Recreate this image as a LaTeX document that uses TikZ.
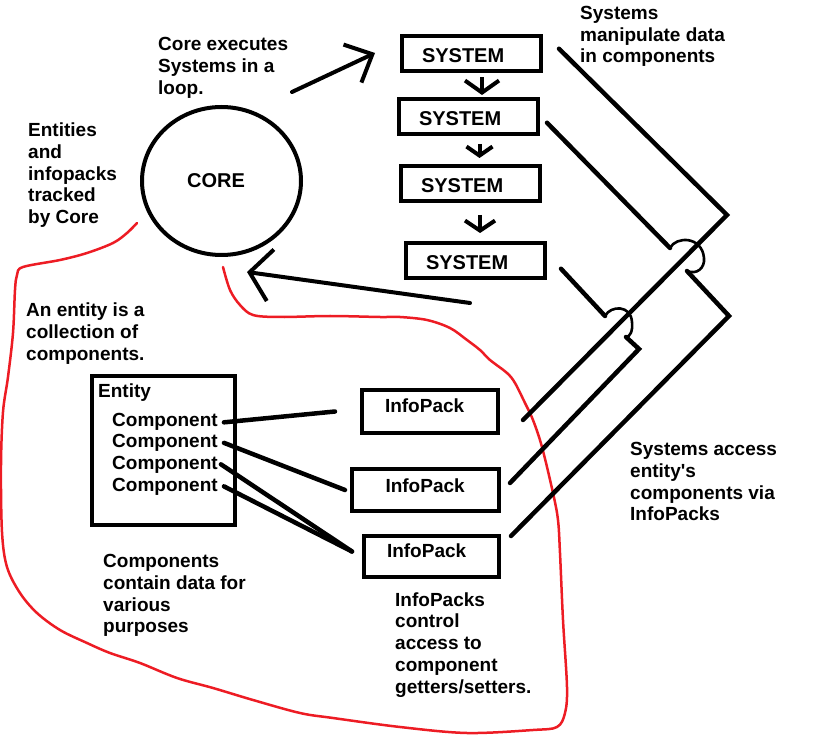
\documentclass[tikz,border=0pt]{standalone}
\usepackage{fontspec}
\setmainfont{Liberation Sans}
\usetikzlibrary{arrows.meta,shapes.geometric,calc}
\definecolor{paintred}{RGB}{237,28,36}
\begin{document}
\begin{tikzpicture}[x=1pt,y=-1pt,
  txt/.style={font=\fontsize{19}{21.7}\selectfont\bfseries, align=left, inner sep=0pt, anchor=north west},
  boxline/.style={draw, line width=4pt},
  sysbox/.style={boxline, anchor=north west, font=\fontsize{20}{24}\selectfont\bfseries,
    inner ysep=0pt, inner xsep=20pt, text width=99pt, align=left, text height=26.5pt, text depth=9pt},
  ipbox/.style={boxline, anchor=north west, font=\fontsize{19}{22}\selectfont\bfseries, inner ysep=0pt, align=left},
  conn/.style={line width=4.5pt, line cap=round},
  hop/.style={line width=2.6pt, line cap=round},
  bigarrow/.style={line width=4pt, line cap=round},
]
\useasboundingbox (0,0) rectangle (815,746);

% red boundary
\draw[paintred, line width=2.5pt, line cap=round]
  plot[smooth, tension=0.55] coordinates {
  (137,223) (127,233) (113,243) (87,253) (60,260) (23,267) (17,275) (15,290) (13,333)
  (8,377) (3,412) (1,465) (2,532) (7,567) (20,593) (37,613) (60,630) (87,643) (110,653)
  (140,663) (177,678) (213,688) (253,700) (300,713) (333,718) (400,727) (467,733)
  (533,730) (557,727) (565,713) (567,687) (563,620) (560,553) (558,520) (553,493)
  (542,447) (533,420) (525,403) (515,383) (507,373) (490,360) (480,350) (467,340)
  (450,328) (427,320) (400,317) (380,317) (330,316) (280,317) (253,315) (240,305)
  (230,290) (223,267)};

% core
\node[ellipse, draw, line width=4pt, minimum width=159pt, minimum height=148pt, inner sep=0pt,
  font=\fontsize{20}{24}\selectfont\bfseries] (core) at (221.5,181) {CORE\hspace*{11pt}};

% systems
\node[sysbox] (s1) at (400,34) {SYSTEM};
\node[sysbox] (s2) at (397,97) {SYSTEM};
\node[sysbox] (s3) at (399,164) {SYSTEM};
\node[sysbox] (s4) at (404,241) {SYSTEM};

\draw[line width=4pt, -{Straight Barb[length=12pt,width=34pt]}] ($(s1.south)+(10.5,4)$) -- ($(s2.north)+(13.5,-2)$);
\draw[line width=4pt, -{Straight Barb[length=9pt,width=26pt]}] ($(s2.south)+(11,7.5)$) -- ($(s3.north)+(9,-6)$);
\draw[line width=4pt, -{Straight Barb[length=10pt,width=30pt]}] ($(s3.south)+(9.5,11.5)$) -- ($(s4.north)+(4.5,-8)$);

% info packs
\node[ipbox, inner xsep=23pt, text width=90pt, text height=23pt, text depth=20pt] (ip1) at (360,388) {InfoPack};
\node[ipbox, inner xsep=33.5pt, text width=80pt, text height=23pt, text depth=19pt] (ip2) at (350,467) {InfoPack};
\node[ipbox, inner xsep=23pt, text width=89pt, text height=21pt, text depth=20pt] (ip3) at (362,534) {InfoPack};

% entity
\node[boxline, anchor=north west, minimum width=143pt, minimum height=149pt, inner sep=0pt] (entity) at (90,374) {};
\node[txt, anchor=base west] (tEntity) at (98,397.3) {Entity};
\node[txt, anchor=base west] (c1) at (112,426) {Component};
\node[txt, anchor=base west] (c2) at (112,447.5) {Component};
\node[txt, anchor=base west] (c3) at (112,469) {Component};
\node[txt, anchor=base west] (c4) at (112,491) {Component};

\draw[conn] ($(c1.east)+(6,1)$) -- ($(ip1.west)+(-25,0)$);
\draw[conn] ($(c2.east)+(6,0)$) -- ($(ip2.west)+(-5,0)$);
\draw[conn] ($(c3.east)+(3,0)$) -- ($(ip3.west)+(-10,-5)$);
\draw[conn] ($(c4.east)+(6,0)$) -- ($(ip3.west)+(-10,-5)$);

% system-to-infopack connectors with hops
\coordinate (cornerA) at (727,215);
\coordinate (hopB1) at (670,248);
\coordinate (hopB2) at (687,271);
\coordinate (cornerB) at (729,316);
\coordinate (hopC1) at (605,316);
\coordinate (hopC2) at (626,337);
\coordinate (cornerC) at (639,349);

\draw[conn] ($(s1.east)+(16,-5)$) -- (cornerA) -- ($(ip1.east)+(23,8.5)$);
\draw[conn] ($(s2.east)+(7,6)$) -- (hopB1);
\draw[hop] (hopB1) .. controls (676,236) and (702,236) .. (704,258)
  .. controls (705,268) and (697,275) .. (hopB2);
\draw[conn] (hopB2) -- (cornerB) -- ($(ip3.east)+(10,-20.5)$);
\draw[conn] ($(s4.east)+(14,8)$) -- (hopC1);
\draw[hop] (hopC1) .. controls (611,305) and (631,305) .. (632,322)
  .. controls (633,331) and (630,337) .. (hopC2);
\draw[conn] (hopC2) -- (cornerC) -- ($(ip2.east)+(9,-7)$);

% loop arrows
\coordinate (loopTail) at (292,92);
\coordinate (loopTip) at (375,53);
\draw[bigarrow, -{Straight Barb[length=22pt,width=42pt]}] (loopTail) -- (loopTip);
\coordinate (backTail) at (470,303);
\coordinate (backTip) at (247,272);
\draw[bigarrow, -{Straight Barb[length=21pt,width=52pt]}] (backTail) -- (backTip);

% captions
\node[txt] (tLoop) at (158,37.3) {Core executes\\Systems in a\\loop.};
\node[txt] (tManip) at (580,5.9) {Systems\\manipulate data\\in components};
\node[txt] (tTracked) at (28,122.8) {Entities\\and\\infopacks\\tracked\\by Core};
\node[txt] (tEntityIs) at (26,303) {An entity is a\\collection of\\components.};
\node[txt] (tCompData) at (103,554.3) {Components\\contain data for\\various\\purposes};
\node[txt] (tIPcontrol) at (395,592.3) {InfoPacks\\control\\access to\\component\\getters/setters.};
\node[txt] (tAccess) at (630,442.3) {Systems access\\entity\textquotesingle s\\components via\\InfoPacks};
\end{tikzpicture}
\end{document}
